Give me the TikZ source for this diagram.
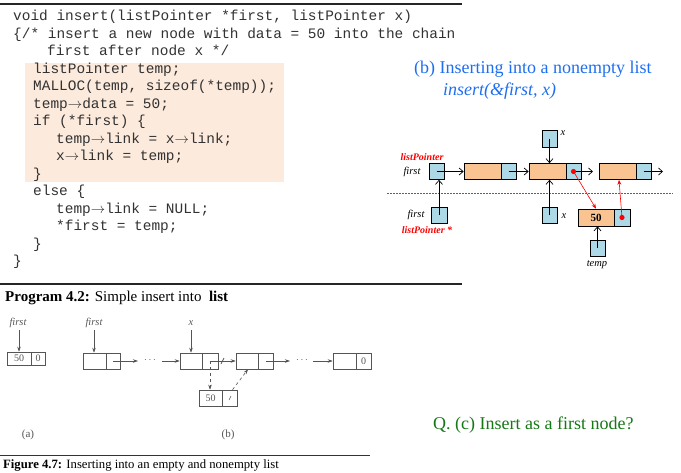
\documentclass[tikz,border=0pt]{standalone}
\usepackage{fontspec}
\setmainfont{Liberation Serif}
\setmonofont{Liberation Mono}
\usetikzlibrary{arrows.meta,calc}
\definecolor{codegray}{RGB}{50,50,50}
\definecolor{codeshade}{RGB}{252,234,220}
\definecolor{cellblue}{RGB}{173,216,230}
\definecolor{cellorange}{RGB}{250,196,146}
\definecolor{titleblue}{RGB}{30,110,240}
\definecolor{qgreen}{RGB}{20,120,20}
\definecolor{figgray}{RGB}{85,85,85}
\definecolor{dashblue}{RGB}{40,100,230}
\begin{document}
\begin{tikzpicture}[x=1pt,y=-1pt,
  codeline/.style={anchor=base west,inner sep=0pt,text=codegray,font=\fontsize{14.45}{17.4}\selectfont\ttfamily},
  bcell/.style={draw=black,line width=0.7pt,fill=cellblue,inner sep=0pt,minimum width=15pt,minimum height=16pt},
  ocell/.style={draw=black,line width=0.7pt,fill=cellorange,inner sep=0pt,minimum width=37pt,minimum height=16pt},
  parr/.style={draw=black,line width=0.7pt,-{Straight Barb[length=4pt,width=7pt]}},
  redarr/.style={draw=red,line width=0.6pt,-{Stealth[length=5pt,width=4pt]}},
  lbl/.style={inner sep=0pt,font=\fontsize{10.5}{12}\selectfont\itshape},
  redlbl/.style={inner sep=0pt,text=red,font=\fontsize{10}{12}\selectfont\bfseries\itshape},
  fcell/.style={draw=figgray,line width=0.6pt,inner sep=0pt,minimum height=16pt,text=figgray,font=\fontsize{10}{12}\selectfont},
  farr/.style={draw=figgray,line width=0.6pt,-{Stealth[length=5pt,width=3.5pt]}},
  flbl/.style={inner sep=0pt,text=figgray,font=\fontsize{10.5}{12}\selectfont\itshape}]
\useasboundingbox (0,0) rectangle (681,472);
% top rule
\draw[line width=1.5pt,black!85] (0,4) -- (462,4);
% shaded area
\fill[codeshade] (25,63) rectangle (284,182);
% code
\node[codeline] (l1) at (13,20.5) {void insert(listPointer *first, listPointer x)};
\node[codeline] (l2) at (13,38) {\{/* insert a new node with data = 50 into the chain};
\node[codeline] (l3) at (47,55.5) {first after node x */};
\node[codeline] (l4) at (33,73) {listPointer temp;};
\node[codeline] (l5) at (33,90.5) {MALLOC(temp, sizeof(*temp));};
\node[codeline] (l6) at (33,108) {temp$\rightarrow$data = 50;};
\node[codeline] (l7) at (33,125.5) {if (*first) \{};
\node[codeline] (l8) at (56,143) {temp$\rightarrow$link = x$\rightarrow$link;};
\node[codeline] (l9) at (56,160.5) {x$\rightarrow$link = temp;};
\node[codeline] (l10) at (33,178) {\}};
\node[codeline] (l11) at (33,195.5) {else \{};
\node[codeline] (l12) at (56,213) {temp$\rightarrow$link = NULL;};
\node[codeline] (l13) at (56,230.5) {*first = temp;};
\node[codeline] (l14) at (33,248) {\}};
\node[codeline] (l15) at (13,265.5) {\}};
% titles
\node[anchor=base west,inner sep=0pt,text=titleblue,font=\fontsize{18}{20}\selectfont] (t1) at (414,73) {(b) Inserting into a nonempty list};
\node[anchor=base west,inner sep=0pt,text=titleblue,font=\fontsize{18}{20}\selectfont\itshape] (t2) at (443,95) {insert(\&first, x)};
% dashed separator
\draw[dashblue,line width=0.8pt,dash pattern=on 2pt off 1pt] (387,193.5) coordinate (d1) -- (673,193.5) coordinate (d2);
% right diagram nodes
\node[bcell] (p1) at (436.5,171.5) {};
\node[ocell] (n1o) at (482.5,171.5) {};
\node[bcell] (n1b) at (508.5,171.5) {};
\node[ocell] (n2o) at (547.5,171.5) {};
\node[bcell] (n2b) at (573.5,171.5) {};
\node[ocell] (n3o) at (617.5,171.5) {};
\node[bcell] (n3b) at (643.5,171.5) {};
\node[bcell,minimum height=17pt] (x1) at (549.5,138.5) {};
\node[bcell] (x2) at (549.5,215) {};
\node[bcell,minimum width=16pt] (pf) at (439,215) {};
\node[ocell,minimum width=36pt,minimum height=17pt,font=\fontsize{11}{12}\selectfont\bfseries] (tmo) at (596,217.5) {50};
\node[bcell,minimum width=16pt,minimum height=17pt] (tmb) at (622,217.5) {};
\node[bcell] (tp) at (597.5,248) {};
% labels
\node[redlbl] (lp1) at (422,157) {listPointer};
\node[lbl] (f1) at (412,172) {first};
\node[lbl] (f2) at (416,215) {first};
\node[redlbl] (lp2) at (427,230) {listPointer *};
\node[lbl] (xl1) at (563,133) {x};
\node[lbl] (xl2) at (564,216) {x};
\node[lbl] (tl) at (597,265) {temp};
% arrows
\coordinate (e1) at (593,171.5);
\coordinate (e2) at (663,171.5);
\draw[parr] (p1.center) -- (n1o.west);
\draw[parr] (n1b.center) -- (n2o.west);
\draw[parr] (n2b.center) -- (e1);
\draw[parr] (n3b.center) -- (e2);
\draw[parr] (x1.center) -- (x1.center |- n2o.north);
\draw[parr] (x2.center) -- (x2.center |- n2o.south);
\draw[parr] (pf.center) -- (pf.center |- p1.south);
\draw[parr] (tp.center) -- (tp.center |- tmo.south);
\draw[redarr] (n2b.center) -- (tmo.north);
\draw[redarr] (tmb.center) -- ($(n3o.south)+(1.5,0)$);
\fill[red] (n2b.center) circle (2.6pt);
\fill[red] (tmb.center) circle (2.6pt);
% middle rule
\draw[line width=1.5pt,black!85] (0,284) -- (462,284);
\node[anchor=base west,inner sep=0pt,font=\fontsize{15}{17}\selectfont] (prog) at (5,301) {\textbf{Program 4.2:} Simple insert into \ \textbf{list}};
% Figure 4.7 (a)
\node[flbl] (fa) at (18,323) {first};
\node[fcell,minimum width=24pt,minimum height=13pt] (a1) at (19,358.5) {50};
\node[fcell,minimum width=14pt,minimum height=13pt] (a2) at (38,358.5) {0};
\draw[farr] (19,330) -- (a1.north -| 19,0);
% Figure 4.7 (b)
\node[flbl] (fb) at (94,323) {first};
\node[flbl] (fx) at (191,323) {x};
\node[fcell,minimum width=23pt] (b1l) at (94.5,361) {};
\node[fcell,minimum width=14pt] (b1r) at (113,361) {};
\node[fcell,minimum width=22pt] (b2l) at (191,361) {};
\node[fcell,minimum width=16pt] (b2r) at (210,361) {};
\node[fcell,minimum width=22pt] (b3l) at (247,361) {};
\node[fcell,minimum width=15pt] (b3r) at (265.5,361) {};
\node[fcell,minimum width=23pt] (b4l) at (344.5,361) {};
\node[fcell,minimum width=15pt] (b4r) at (363.5,361) {0};
\node[fcell,minimum width=23pt] (b5l) at (210.5,398) {50};
\node[fcell,minimum width=15pt] (b5r) at (229.5,398) {};
\draw[farr] (fb.south |- 0,330) -- (fb.south |- b1l.north);
\draw[farr] (fx.south |- 0,330) -- (fx.south |- b2l.north);
\coordinate (g1) at (138,361);
\coordinate (g2) at (162,361);
\coordinate (g3) at (290,361);
\coordinate (g4) at (313,361);
\draw[farr] (b1r.center) -- (g1);
\node[inner sep=0pt,text=figgray,font=\fontsize{10}{12}\selectfont] (dots1) at (150,360) {$\cdots$};
\draw[farr] (g2) -- (b2l.west);
\draw[farr] (b2r.center) -- (b3l.west);
\draw[figgray,line width=0.8pt] (221,364) -- (224,358);
\draw[farr] (b3r.center) -- (g3);
\node[inner sep=0pt,text=figgray,font=\fontsize{10}{12}\selectfont] (dots2) at (302,360) {$\cdots$};
\draw[farr] (g4) -- (b4l.west);
\draw[farr,dashed] (b2r.center) -- (b2r.center |- b5l.north);
\draw[farr,dashed] ($(b5r.north)+(3,0)$) -- ($(b3l.south)+(1,0)$);
\draw[figgray,line width=0.5pt] (229,400) -- (231,396);
\node[inner sep=0pt,text=figgray,font=\fontsize{11}{12}\selectfont] (ca) at (28,435) {(a)};
\node[inner sep=0pt,text=figgray,font=\fontsize{11}{12}\selectfont] (cb) at (228,435) {(b)};
\draw[line width=0.9pt,black!80] (0,455) -- (370,455);
\node[anchor=base west,inner sep=0pt,font=\fontsize{12.7}{14}\selectfont] (cap) at (3,468) {\textbf{Figure 4.7:} Inserting into an empty and nonempty list};
% question
\node[anchor=base west,inner sep=0pt,text=qgreen,font=\fontsize{18}{20}\selectfont] (q) at (433,429) {Q. (c) Insert as a first node?};
\end{tikzpicture}
\end{document}
